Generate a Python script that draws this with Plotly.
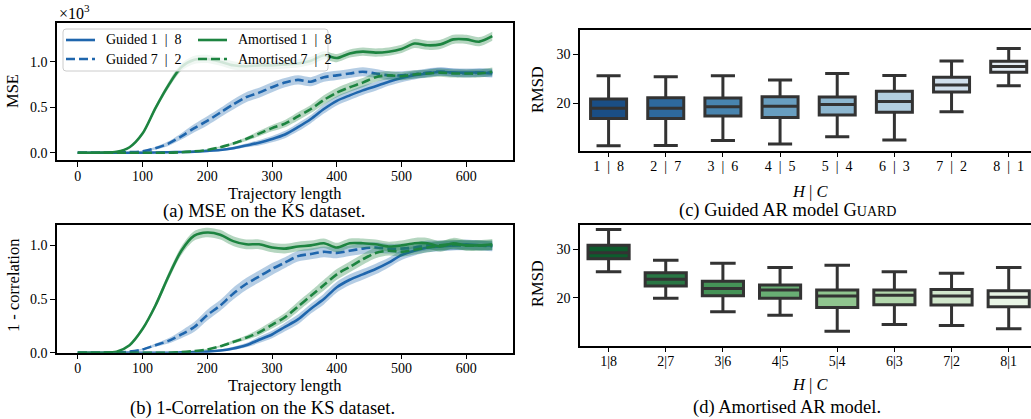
import plotly.graph_objects as go

W, H = 1031, 419

# ---------------------------------------------------------------- line data
traj_len = [0, 20, 40, 60, 80, 100, 120, 140, 160, 180, 200, 220, 240, 260, 280, 300,
            320, 340, 360, 380, 400, 420, 440, 460, 480, 500, 520, 540, 560, 580, 600, 620, 640]

# MSE, in units of 10^3
mse_guided_18 = [0, 0, 0, 0, 0, 0, 0.003, 0.005, 0.008, 0.012, 0.02, 0.03, 0.05, 0.08, 0.11, 0.15,
                 0.20, 0.28, 0.37, 0.48, 0.57, 0.63, 0.685, 0.73, 0.78, 0.82, 0.85, 0.87, 0.89, 0.88, 0.88, 0.88, 0.87]
mse_guided_72 = [0, 0, 0, 0.002, 0.006, 0.015, 0.05, 0.10, 0.18, 0.27, 0.35, 0.44, 0.53, 0.61, 0.66, 0.72,
                 0.77, 0.80, 0.78, 0.83, 0.85, 0.87, 0.89, 0.87, 0.85, 0.85, 0.86, 0.88, 0.89, 0.88, 0.87, 0.88, 0.88]
mse_amort_18 = [0, 0, 0.002, 0.01, 0.06, 0.21, 0.49, 0.74, 0.94, 1.02, 1.03, 1.0, 0.96, 0.95, 0.96, 0.96,
                0.97, 0.98, 1.01, 1.07, 1.04, 1.09, 1.11, 1.10, 1.11, 1.14, 1.20, 1.18, 1.19, 1.245, 1.245, 1.22, 1.28]
mse_amort_72 = [0, 0, 0, 0, 0, 0, 0, 0, 0.005, 0.015, 0.03, 0.06, 0.10, 0.15, 0.21, 0.27,
                0.32, 0.40, 0.48, 0.58, 0.66, 0.72, 0.77, 0.83, 0.85, 0.84, 0.86, 0.87, 0.88, 0.87, 0.87, 0.87, 0.89]

# 1 - correlation
corr_guided_18 = [0, 0, 0, 0, 0, 0, 0, 0, 0.003, 0.006, 0.01, 0.02, 0.04, 0.07, 0.12, 0.17,
                  0.24, 0.31, 0.41, 0.50, 0.61, 0.68, 0.73, 0.78, 0.84, 0.91, 0.95, 0.98, 0.99, 1.0, 1.01, 1.0, 1.0]
corr_guided_72 = [0, 0, 0, 0.003, 0.01, 0.03, 0.07, 0.11, 0.17, 0.24, 0.35, 0.44, 0.55, 0.64, 0.71, 0.78,
                  0.84, 0.90, 0.92, 0.94, 0.93, 0.95, 0.97, 0.98, 0.97, 0.97, 0.98, 1.0, 1.0, 1.0, 1.0, 1.0, 0.99]
corr_amort_18 = [0, 0, 0, 0.01, 0.07, 0.22, 0.44, 0.71, 0.95, 1.09, 1.12, 1.10, 1.04, 1.01, 1.01, 0.98,
                 0.97, 0.99, 1.0, 1.02, 0.98, 1.02, 1.02, 1.01, 0.99, 1.0, 1.02, 1.02, 0.99, 1.02, 1.0, 1.0, 1.01]
corr_amort_72 = [0, 0, 0, 0, 0, 0, 0, 0, 0.005, 0.015, 0.03, 0.06, 0.10, 0.14, 0.19, 0.26,
                 0.33, 0.43, 0.53, 0.63, 0.73, 0.80, 0.87, 0.93, 0.95, 0.94, 0.96, 0.98, 1.0, 1.01, 1.0, 1.0, 1.0]

# half-width of the shaded spread around each curve
spread_guided_18 = [0, 0, 0, 0, 0, 0, 0.002, 0.003, 0.004, 0.005, 0.008, 0.01, 0.015, 0.02, 0.03, 0.035,
                    0.04, 0.045, 0.045, 0.05, 0.05, 0.05, 0.05, 0.05, 0.045, 0.045, 0.045, 0.045, 0.045, 0.045, 0.045, 0.045, 0.045]
spread_guided_72 = [0, 0, 0, 0.002, 0.004, 0.008, 0.015, 0.025, 0.035, 0.045, 0.05, 0.05, 0.055, 0.055, 0.055, 0.055,
                    0.05, 0.05, 0.05, 0.05, 0.05, 0.05, 0.05, 0.05, 0.045, 0.045, 0.045, 0.045, 0.045, 0.045, 0.045, 0.045, 0.045]
spread_amort_18 = [0, 0, 0, 0.003, 0.008, 0.015, 0.025, 0.035, 0.04, 0.045, 0.045, 0.045, 0.045, 0.045, 0.045, 0.045,
                   0.045, 0.045, 0.045, 0.045, 0.045, 0.045, 0.045, 0.045, 0.045, 0.045, 0.05, 0.05, 0.05, 0.05, 0.05, 0.05, 0.05]
spread_amort_72 = [0, 0, 0, 0, 0, 0, 0, 0, 0.002, 0.004, 0.006, 0.01, 0.015, 0.02, 0.03, 0.035,
                   0.04, 0.045, 0.045, 0.05, 0.05, 0.05, 0.05, 0.05, 0.045, 0.045, 0.045, 0.045, 0.045, 0.045, 0.045, 0.045, 0.045]

# ---------------------------------------------------------------- box data (RMSD)
NB = "\u00a0"
hc_guided = [f"1{NB}{NB}|{NB}{NB}8", f"2{NB}{NB}|{NB}{NB}7", f"3{NB}{NB}|{NB}{NB}6", f"4{NB}{NB}|{NB}{NB}5",
             f"5{NB}{NB}|{NB}{NB}4", f"6{NB}{NB}|{NB}{NB}3", f"7{NB}{NB}|{NB}{NB}2", f"8{NB}{NB}|{NB}{NB}1"]
hc_amort = ["1|8", "2|7", "3|6", "4|5", "5|4", "6|3", "7|2", "8|1"]

guided_lo = [11.35, 11.4, 12.4, 11.7, 13.2, 12.5, 18.3, 23.6]
guided_q1 = [16.9, 16.9, 17.4, 17.1, 17.6, 18.2, 22.3, 26.35]
guided_med = [19.0, 19.0, 19.3, 19.4, 19.75, 20.35, 23.75, 27.5]
guided_q3 = [20.9, 21.15, 21.1, 21.35, 21.3, 22.45, 25.3, 28.6]
guided_hi = [25.6, 25.4, 25.6, 24.75, 26.1, 25.7, 28.65, 31.2]

amort_lo = [25.35, 19.9, 17.1, 16.4, 13.1, 14.5, 14.3, 13.6]
amort_q1 = [28.0, 22.4, 20.4, 19.9, 18.0, 18.55, 18.5, 18.15]
amort_med = [29.25, 23.8, 21.9, 21.6, 20.35, 20.5, 20.35, 20.1]
amort_q3 = [30.75, 25.1, 23.4, 22.6, 21.6, 21.6, 21.7, 21.45]
amort_hi = [34.0, 27.7, 27.06, 26.2, 26.65, 25.35, 25.0, 26.2]

blues = ["#1a4e85", "#2e699d", "#4884af", "#689ec0", "#8db7d0", "#b2cedf", "#d0dfec", "#e4edf5"]
greens = ["#0d5b2d", "#297744", "#459357", "#69ae74", "#90c58f", "#b3d8ad", "#d1e7cc", "#e8f4e5"]

BLUE = "#1f66ad"
GREEN = "#1d8440"
BLUE_FILL = "rgba(31,102,173,0.33)"
GREEN_FILL = "rgba(29,132,64,0.33)"
EDGE = "#333333"
SERIF = "Liberation Serif"


def px_x(p):
    return p / W


def px_y(p):
    return 1 - p / H


fig = go.Figure()


def add_curve(y, spread, color, fill, dash, xa, ya):
    lo = [v - s for v, s in zip(y, spread)]
    hi = [v + s for v, s in zip(y, spread)]
    common = dict(x=traj_len, mode="lines", xaxis=xa, yaxis=ya, showlegend=False, hoverinfo="skip")
    fig.add_trace(go.Scatter(y=lo, line=dict(width=0, shape="spline", smoothing=0.8), **common))
    fig.add_trace(go.Scatter(y=hi, line=dict(width=0, shape="spline", smoothing=0.8),
                             fill="tonexty", fillcolor=fill, **common))
    fig.add_trace(go.Scatter(y=y, line=dict(color=color, width=2.6, dash=dash, shape="spline", smoothing=0.8),
                             **common))


DASH = "9px,4px"
for xa, ya, series in [
    ("x", "y", [mse_guided_18, mse_guided_72, mse_amort_18, mse_amort_72]),
    ("x2", "y2", [corr_guided_18, corr_guided_72, corr_amort_18, corr_amort_72]),
]:
    add_curve(series[0], spread_guided_18, BLUE, BLUE_FILL, "solid", xa, ya)
    add_curve(series[1], spread_guided_72, BLUE, BLUE_FILL, DASH, xa, ya)
    add_curve(series[2], spread_amort_18, GREEN, GREEN_FILL, "solid", xa, ya)
    add_curve(series[3], spread_amort_72, GREEN, GREEN_FILL, DASH, xa, ya)


def add_boxes(lo, q1, med, q3, hi, colors, width, whisker, xa, ya):
    for i in range(len(med)):
        fig.add_trace(go.Box(
            x=[i], q1=[q1[i]], median=[med[i]], q3=[q3[i]],
            lowerfence=[lo[i]], upperfence=[hi[i]],
            width=width, whiskerwidth=whisker, boxpoints=False,
            fillcolor=colors[i], line=dict(color=EDGE, width=3),
            xaxis=xa, yaxis=ya, showlegend=False, hoverinfo="skip"))


add_boxes(guided_lo, guided_q1, guided_med, guided_q3, guided_hi, blues, 0.63, 0.67, "x3", "y3")
add_boxes(amort_lo, amort_q1, amort_med, amort_q3, amort_hi, greens, 0.72, 0.62, "x4", "y4")

tickfont = dict(family=SERIF, size=14, color="black")
axis_common = dict(showline=True, linecolor="black", linewidth=1.5, ticks="outside", ticklen=5,
                   tickwidth=1.3, tickcolor="black", showgrid=False, zeroline=False, tickfont=tickfont)
x_common = dict(axis_common, ticklabelstandoff=-3)

left_dom = [px_x(57), px_x(513)]
right_dom = [px_x(580), 1.0]

fig.update_layout(
    width=W, height=H, margin=dict(l=0, r=0, t=0, b=0),
    paper_bgcolor="white", plot_bgcolor="white", template="none",
    font=dict(family=SERIF),
    xaxis=dict(domain=left_dom, anchor="y", range=[-32, 672], tickvals=[0, 100, 200, 300, 400, 500, 600],
               mirror=True, **x_common),
    yaxis=dict(domain=[px_y(160), px_y(23)], anchor="x", range=[-0.08, 1.425], tickvals=[0, 0.5, 1.0],
               ticktext=["0.0", "0.5", "1.0"], mirror=True, **axis_common),
    xaxis2=dict(domain=left_dom, anchor="y2", range=[-32, 672], tickvals=[0, 100, 200, 300, 400, 500, 600],
                mirror=True, **x_common),
    yaxis2=dict(domain=[px_y(352.7), px_y(225)], anchor="x2", range=[0, 1.19], tickvals=[0, 0.5, 1.0],
                ticktext=["0.0", "0.5", "1.0"], mirror=True, **axis_common),
    xaxis3=dict(domain=right_dom, anchor="y3", range=[-0.5, 7.39], tickvals=list(range(8)),
                ticktext=hc_guided, mirror=True, **x_common),
    yaxis3=dict(domain=[px_y(150.7), px_y(30)], anchor="x3", range=[10.33, 34.96], tickvals=[20, 30],
                **axis_common),
    xaxis4=dict(domain=right_dom, anchor="y4", range=[-0.5, 7.39], tickvals=list(range(8)),
                ticktext=hc_amort, mirror=True, **x_common),
    yaxis4=dict(domain=[px_y(345.7), px_y(225)], anchor="x4", range=[10.14, 34.93], tickvals=[20, 30],
                **axis_common),
)

annotations = []


def text(s, x, y, size, xanchor="center", angle=0):
    annotations.append(dict(text=s, x=px_x(x), y=px_y(y), xref="paper", yref="paper",
                            xanchor=xanchor, yanchor="middle", showarrow=False, textangle=angle,
                            font=dict(family=SERIF, size=size, color="black")))


# axis titles
text("Trajectory length", 285, 193, 16.5)
text("Trajectory length", 285, 385, 16.5)
text("MSE", 13, 91, 16.5, angle=-90)
text("1 - correlation", 13, 286, 16.5, angle=-90)
text("RMSD", 537, 90, 16.5, angle=-90)
text("RMSD", 537, 284, 16.5, angle=-90)
text(f"<i>H</i>{NB}|{NB}<i>C</i>", 810, 191, 16.5)
text(f"<i>H</i>{NB}|{NB}<i>C</i>", 810, 384, 16.5)
text("×10<sup>3</sup>", 57, 12, 16, xanchor="left")

# sub-figure captions
text("(a) MSE on the KS dataset.", 264, 211, 18.5)
text("(b) 1-Correlation on the KS dataset.", 262, 408, 18.5)
text("(c) Guided AR model G<span style='font-size:14px'>UARD</span>", 787, 210, 18.5)
text("(d) Amortised AR model.", 787, 407, 18.5)

# legend
shapes = []
lx0, ly0, lx1, ly1, r = 63, 29, 328, 71, 3
path = (f"M {px_x(lx0 + r)},{px_y(ly0)} L {px_x(lx1 - r)},{px_y(ly0)} "
        f"Q {px_x(lx1)},{px_y(ly0)} {px_x(lx1)},{px_y(ly0 + r)} "
        f"L {px_x(lx1)},{px_y(ly1 - r)} Q {px_x(lx1)},{px_y(ly1)} {px_x(lx1 - r)},{px_y(ly1)} "
        f"L {px_x(lx0 + r)},{px_y(ly1)} Q {px_x(lx0)},{px_y(ly1)} {px_x(lx0)},{px_y(ly1 - r)} "
        f"L {px_x(lx0)},{px_y(ly0 + r)} Q {px_x(lx0)},{px_y(ly0)} {px_x(lx0 + r)},{px_y(ly0)} Z")
shapes.append(dict(type="path", path=path, xref="paper", yref="paper", layer="above",
                   fillcolor="rgba(255,255,255,0.8)", line=dict(color="#cccccc", width=1)))

legend_items = [
    (f"Guided 1{NB}{NB}|{NB}{NB}8", BLUE, "solid", 66, 40),
    (f"Guided 7{NB}{NB}|{NB}{NB}2", BLUE, DASH, 66, 59),
    (f"Amortised 1{NB}{NB}|{NB}{NB}8", GREEN, "solid", 198, 40),
    (f"Amortised 7{NB}{NB}|{NB}{NB}2", GREEN, DASH, 198, 59),
]
for label, color, dash, x0, y0 in legend_items:
    shapes.append(dict(type="line", xref="paper", yref="paper", layer="above",
                       x0=px_x(x0), x1=px_x(x0 + 29), y0=px_y(y0), y1=px_y(y0),
                       line=dict(color=color, width=2.6, dash=dash)))
    text(label, x0 + 38, y0, 14, xanchor="left")

fig.update_layout(annotations=annotations, shapes=shapes)

fig.write_html("out.html")
